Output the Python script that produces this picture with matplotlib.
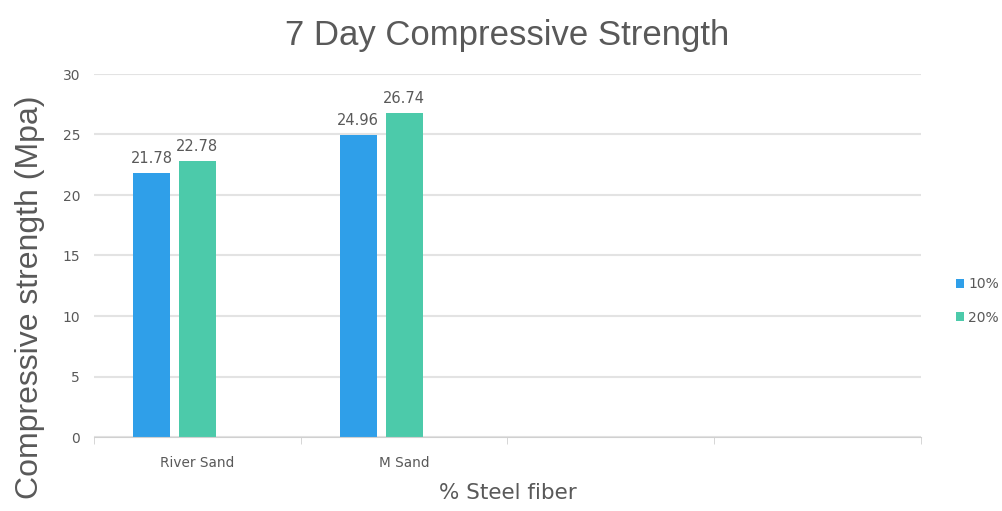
import numpy as np
import matplotlib
matplotlib.use('Agg')
import matplotlib.pyplot as plt

# slots on the category axis (last two are empty)
categories = ["River Sand", "M Sand", "", ""]
fiber_10 = [21.78, 24.96]
fiber_20 = [22.78, 26.74]
series_names = ["10%", "20%"]

blue = "#2f9fe9"
green = "#4ccaaa"
grey = "#595959"

fig = plt.figure(figsize=(10.03, 5.11), dpi=100)
ax = fig.add_axes([94/1003, 1-437/511, (921-94)/1003, (437-74)/511])

x = np.arange(len(fiber_10))
w = 37/207
step = 46/207
b1 = ax.bar(x - step, fiber_10, w, color=blue, label=series_names[0], zorder=3)
b2 = ax.bar(x, fiber_20, w, color=green, label=series_names[1], zorder=3)
for bars in (b1, b2):
    for r in bars:
        ax.text(r.get_x() + r.get_width()/2, r.get_height() + 0.6, f"{r.get_height():.2f}",
                ha='center', va='bottom', fontsize=10.5, color=grey)

ax.set_xlim(-0.5, len(categories) - 0.5)
ax.set_ylim(0, 30)
ax.set_yticks(range(0, 31, 5))
ax.set_xticks(np.arange(len(categories)))
ax.set_xticklabels(categories, fontsize=9.8, color=grey)
ax.tick_params(axis='x', length=0, pad=14)
ax.set_xticks(np.arange(len(categories) + 1) - 0.5, minor=True)
ax.tick_params(axis='x', which='minor', length=5, color='#d0d0d0')
ax.tick_params(axis='y', length=0, pad=10, labelsize=10, labelcolor=grey)
ax.grid(axis='y', color='#e3e3e3', linewidth=1.5, zorder=0)
for s in ['top', 'right', 'left']:
    ax.spines[s].set_visible(False)
ax.spines['bottom'].set_color('#d0d0d0')
ax.spines['bottom'].set_zorder(4)

ax.set_title("7 Day Compressive Strength", fontsize=25, color=grey,
             family='Liberation Sans', pad=21)
ax.set_xlabel("% Steel fiber", fontsize=15.5, color=grey, labelpad=9)
fig.text(30/1003, 1-297/511, "Compressive strength (Mpa)", rotation=90,
         ha='center', va='center', fontsize=23, color=grey, family='Liberation Sans')

leg = ax.legend(loc='center left', bbox_to_anchor=(1.027, 0.375), frameon=False,
                fontsize=10, handlelength=0.6, handleheight=0.6, handletextpad=0.3,
                labelspacing=1.4, labelcolor=grey)

fig.savefig('out.png', dpi=100)
